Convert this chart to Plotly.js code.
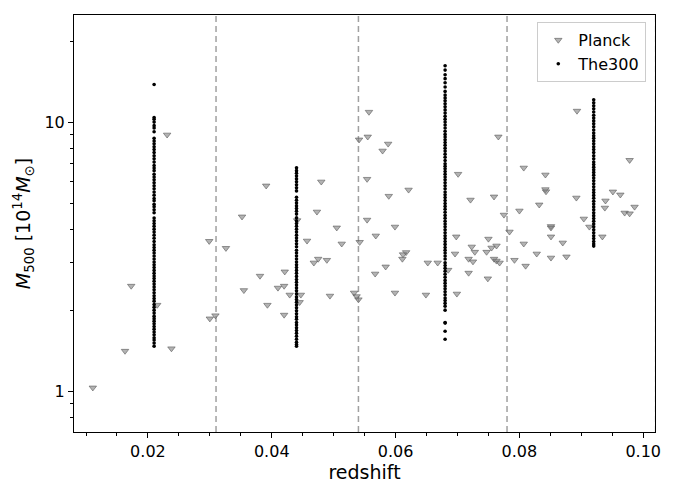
<!DOCTYPE html>
<html>
<head>
<meta charset="utf-8">
<script src="https://cdn.plot.ly/plotly-3.0.1.min.js"></script>
<style>
  html, body { margin: 0; padding: 0; background: #fff; }
  #chart { width: 677px; height: 498px; }
</style>
</head>
<body>
<div id="chart"></div>
<script>
// Planck clusters: redshift / M500 (1e14 Msun)
const planckZ = [
    0.0111, 0.0163, 0.0173, 0.0215, 0.0238, 0.0231, 0.0300, 0.0309, 0.0299, 0.0326,
    0.0352, 0.0391, 0.0381, 0.0355, 0.0393, 0.0421, 0.0410, 0.0420, 0.0429, 0.0420,
    0.0447, 0.0445, 0.0441, 0.0480, 0.0473, 0.0457, 0.0475, 0.0468, 0.0489, 0.0505,
    0.0513, 0.0494, 0.0533, 0.0537, 0.0540, 0.0542, 0.0541, 0.0557, 0.0555, 0.0588,
    0.0579, 0.0554, 0.0621, 0.0589, 0.0554, 0.0599, 0.0568, 0.0617, 0.0612, 0.0611,
    0.0584, 0.0567, 0.0599, 0.0649, 0.0652, 0.0668, 0.0685, 0.0696, 0.0698, 0.0701,
    0.0699, 0.0766, 0.0893, 0.0978, 0.0721, 0.0759, 0.0807, 0.0842, 0.0842, 0.0843,
    0.0832, 0.0800, 0.0775, 0.0784, 0.0807, 0.0851, 0.0851, 0.0851, 0.0870, 0.0828,
    0.0851, 0.0876, 0.0810, 0.0792, 0.0892, 0.0904, 0.0913, 0.0934, 0.0951, 0.0963,
    0.0939, 0.0938, 0.0970, 0.0978, 0.0986, 0.0750, 0.0723, 0.0728, 0.0718, 0.0725,
    0.0718, 0.0747, 0.0755, 0.0763, 0.0759, 0.0763, 0.0768, 0.0749
];
const planckM = [
    1.03, 1.41, 2.46, 2.09, 1.44, 8.97, 1.86, 1.91, 3.61, 3.40,
    4.45, 5.80, 2.68, 2.37, 2.09, 2.78, 2.42, 2.46, 2.28, 1.92,
    2.28, 2.14, 4.31, 6.00, 4.64, 3.62, 3.10, 3.00, 3.07, 4.05,
    3.53, 2.26, 2.32, 2.25, 2.19, 3.58, 8.60, 10.9, 8.82, 8.30,
    7.82, 6.14, 5.60, 5.31, 4.33, 4.08, 3.78, 3.28, 3.22, 3.10,
    2.90, 2.73, 2.32, 2.28, 3.00, 3.00, 2.82, 3.24, 3.75, 6.41,
    2.30, 8.82, 11.0, 7.22, 5.14, 5.28, 6.76, 6.37, 5.62, 5.52,
    4.93, 4.68, 4.52, 3.91, 3.53, 4.10, 4.05, 3.75, 3.56, 3.24,
    3.13, 3.16, 2.92, 3.07, 5.23, 4.37, 4.08, 3.75, 5.51, 5.37,
    5.10, 4.80, 4.60, 4.57, 4.84, 3.68, 3.44, 3.29, 3.10, 3.03,
    2.75, 3.29, 3.41, 3.47, 3.10, 3.05, 3.00, 2.62
];

// The300 regions, one column per snapshot redshift
const the300Z = [0.0210, 0.0440, 0.0680, 0.0920];
const the300M1 = [
    13.8, 10.4, 10.25, 10.0, 9.7, 9.5, 9.2, 8.7, 8.5, 8.3, 8.1,
    7.9, 7.7, 7.5, 7.3, 7.1, 6.9, 6.75, 6.6, 6.4, 6.25, 6.1, 5.95, 5.8, 5.65, 5.5,
    5.35, 5.2, 5.1, 4.95, 4.85, 4.72, 4.6,
    4.4, 4.3, 4.2, 4.1, 4.0, 3.9, 3.8, 3.7, 3.6, 3.5, 3.42, 3.34, 3.26, 3.18, 3.1,
    3.02, 2.95, 2.88, 2.81, 2.74, 2.68, 2.62,
    2.56, 2.5, 2.44, 2.38, 2.32, 2.26, 2.21, 2.16, 2.1, 2.05, 2.0, 1.95, 1.9, 1.86,
    1.82, 1.78, 1.74, 1.7, 1.66, 1.62, 1.58, 1.55, 1.51, 1.47
];
const the300M2 = [
    6.76, 6.6, 6.45, 6.3, 6.15, 6.0, 5.85, 5.7, 5.55,
    5.25, 5.12, 5.0, 4.88, 4.77, 4.66, 4.55,
    4.41, 4.3, 4.2, 4.1, 4.0, 3.9, 3.8, 3.71, 3.62, 3.53, 3.44,
    3.34, 3.26, 3.18, 3.1, 3.02, 2.95, 2.88, 2.81, 2.74, 2.67, 2.6, 2.54, 2.48, 2.42,
    2.36, 2.3, 2.24, 2.19, 2.14, 2.09, 2.04, 1.99, 1.94, 1.89, 1.85, 1.8, 1.76, 1.72,
    1.68, 1.64, 1.6, 1.56, 1.52, 1.49, 1.47
];
const the300M3 = [
    16.2, 15.6, 15.0, 14.5, 14.0, 13.5, 13.0, 12.6,
    12.3, 12.0, 11.7, 11.4, 11.1, 10.8, 10.5, 10.25, 10.0, 9.75, 9.5, 9.25, 9.0,
    8.8, 8.6, 8.4, 8.2, 8.0, 7.8, 7.6, 7.4, 7.2, 7.0, 6.85, 6.7, 6.55, 6.4, 6.25,
    6.1, 5.95, 5.8, 5.65, 5.5, 5.37, 5.24, 5.11, 4.98, 4.86, 4.74, 4.62, 4.5, 4.39,
    4.28, 4.18, 4.08, 3.98, 3.88, 3.78, 3.69, 3.6, 3.51, 3.42, 3.34, 3.26, 3.18, 3.1,
    3.0, 2.93, 2.86, 2.79, 2.72, 2.65, 2.58, 2.52, 2.46, 2.4, 2.34, 2.28, 2.22, 2.17,
    2.12, 2.07, 2.0, 1.8, 1.79, 1.67, 1.56
];
const the300M4 = [
    12.1, 11.8, 11.5, 11.2, 10.9, 10.6, 10.35, 10.1, 9.85, 9.6, 9.35, 9.1, 8.9, 8.7,
    8.5, 8.3, 8.1, 7.9, 7.7, 7.5, 7.3, 7.1, 6.95, 6.8, 6.65, 6.5, 6.35, 6.2, 6.05,
    5.9, 5.75, 5.6, 5.47, 5.34, 5.21, 5.08, 4.96, 4.84, 4.72, 4.6, 4.49, 4.38, 4.28,
    4.18, 4.08, 3.98, 3.88, 3.78, 3.69, 3.6, 3.52, 3.46
];
const the300Cols = [the300M1, the300M2, the300M3, the300M4];

// redshift bin edges (dashed lines)
const binEdges = [0.031, 0.054, 0.078, 0.102];

const xTicks = [0.02, 0.04, 0.06, 0.08, 0.10];
const xTickText = ['0.02', '0.04', '0.06', '0.08', '0.10'];
const yTicks = [1, 10];
const yTickText = ['1', '10'];
const yMinor = [0.8, 0.9, 2, 3, 4, 5, 6, 7, 8, 9, 20];

const the300X = [];
const the300Y = [];
the300Cols.forEach((col, i) => {
    col.forEach(m => {
        the300X.push(the300Z[i]);
        the300Y.push(m);
    });
});

const planck = {
    x: planckZ,
    y: planckM,
    name: 'Planck',
    type: 'scatter',
    mode: 'markers',
    marker: {
        symbol: 'triangle-down',
        size: 6.5,
        color: 'rgba(128,128,128,0.6)',
        line: { color: 'rgba(90,90,90,0.6)', width: 1 }
    }
};

const the300 = {
    x: the300X,
    y: the300Y,
    name: 'The300',
    type: 'scatter',
    mode: 'markers',
    marker: { symbol: 'circle', size: 3.6, color: '#000' }
};

const layout = {
    width: 677,
    height: 498,
    margin: { l: 74, r: 22, t: 15, b: 66 },
    paper_bgcolor: '#fff',
    plot_bgcolor: '#fff',
    font: { family: 'DejaVu Sans', size: 16, color: '#000' },
    showlegend: true,
    legend: {
        x: 0.985, xanchor: 'right',
        y: 0.983, yanchor: 'top',
        bordercolor: '#cccccc', borderwidth: 1,
        bgcolor: 'rgba(255,255,255,0.8)',
        font: { size: 16 },
        itemwidth: 30
    },
    xaxis: {
        range: [0.00806, 0.1019],
        tickmode: 'array',
        tickvals: xTicks,
        ticktext: xTickText,
        tickfont: { size: 16 },
        ticks: 'outside', ticklen: 5, tickcolor: '#000',
        showgrid: false, zeroline: false,
        showline: true, mirror: true, linecolor: '#000', linewidth: 1,
        minor: { dtick: 0.005, tick0: 0, ticks: 'outside', ticklen: 3, tickcolor: '#000', showgrid: false },
        title: { text: 'redshift', font: { size: 19 }, standoff: 4 }
    },
    yaxis: {
        type: 'log',
        range: [Math.log10(0.705), Math.log10(25)],
        tickmode: 'array',
        tickvals: yTicks,
        ticktext: yTickText,
        tickfont: { size: 16 },
        ticks: 'outside', ticklen: 5, tickcolor: '#000',
        showgrid: false, zeroline: false,
        showline: true, mirror: true, linecolor: '#000', linewidth: 1,
        minor: { tickmode: 'array', tickvals: yMinor, ticks: 'outside', ticklen: 3, tickcolor: '#000', showgrid: false },
        title: { text: '<i>M</i><sub>500</sub> [10<sup>14</sup><i>M</i><sub>⊙</sub>]', font: { size: 19 }, standoff: 8 }
    },
    shapes: binEdges.map(z => ({
        type: 'line',
        xref: 'x', yref: 'paper',
        x0: z, x1: z, y0: 0, y1: 1,
        line: { color: '#a0a0a0', width: 1.5, dash: '6px,4px' },
        layer: 'below'
    }))
};

Plotly.newPlot('chart', [planck, the300], layout, { displayModeBar: false, staticPlot: true });
</script>
</body>
</html>
